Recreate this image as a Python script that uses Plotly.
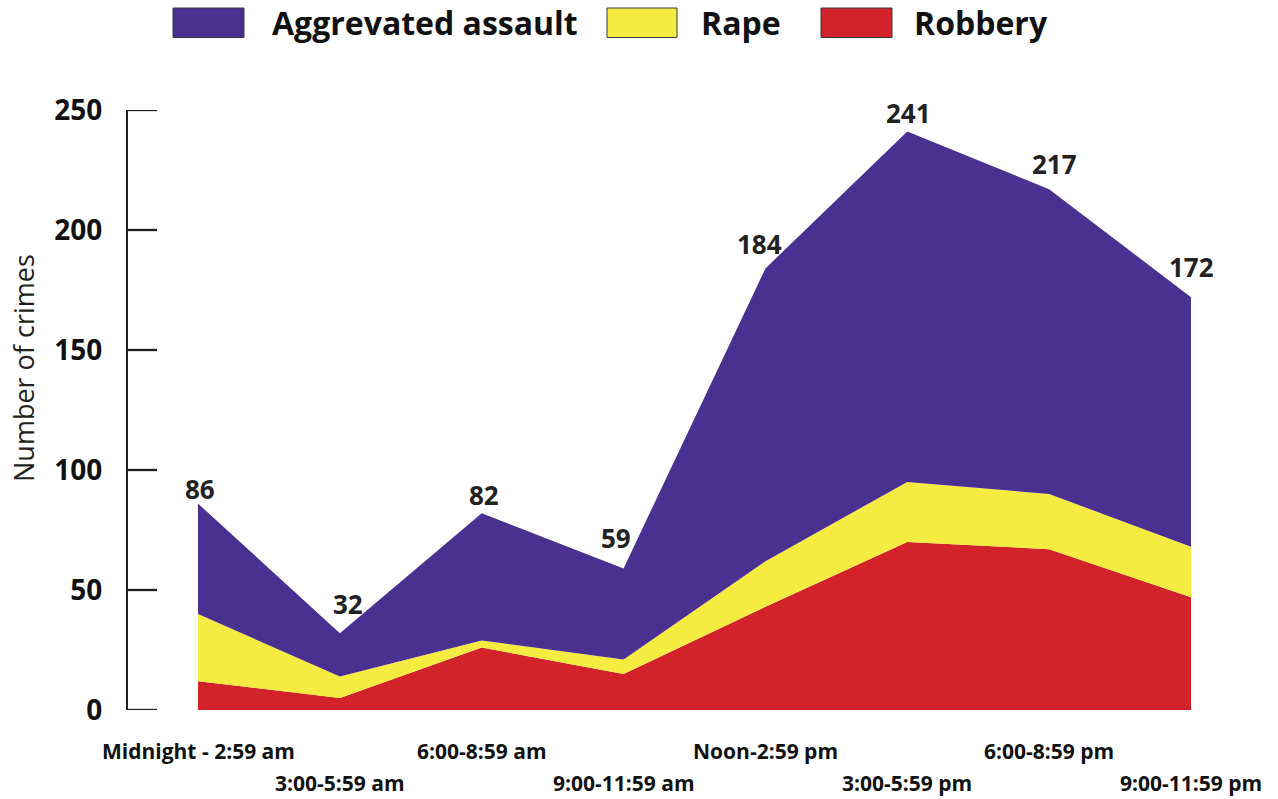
import plotly.graph_objects as go

categories = ["Midnight - 2:59 am", "3:00-5:59 am", "6:00-8:59 am", "9:00-11:59 am",
              "Noon-2:59 pm", "3:00-5:59 pm", "6:00-8:59 pm", "9:00-11:59 pm"]
robbery = [12, 5, 26, 15, 43, 70, 67, 47]
rape = [28, 9, 3, 6, 19, 25, 23, 21]
assault = [46, 18, 53, 38, 122, 146, 127, 104]
totals = [86, 32, 82, 59, 184, 241, 217, 172]
y_ticks = [0, 50, 100, 150, 200, 250]

colors = {"Aggrevated assault": "#4a3191", "Rape": "#f6eb41", "Robbery": "#d2232a"}

FONT = "Open Sans"
DARK = "#231f20"
xs = list(range(len(categories)))

# figure geometry (page body margin removed via post_script)
W, H = 1278, 799
L, R, T, B = 128, 48, 110, 89
pw, ph = W - L - R, H - T - B
def px_x(p):  # page pixel x -> paper
    return (p - L) / pw
def px_y(p):  # page pixel y -> paper
    return (H - B - p) / ph

step = (1191 - 198) / 7.0
x_min = (L - 198) / step
x_max = (W - R - 198) / step

fig = go.Figure()
for name, vals in [("Robbery", robbery), ("Rape", rape), ("Aggrevated assault", assault)]:
    fig.add_trace(go.Scatter(
        x=xs, y=vals, name=name, stackgroup="one", mode="lines",
        line=dict(width=0, color=colors[name]), fillcolor=colors[name],
        showlegend=False, hoverinfo="x+y+name"))

annotations = []
# data labels: (xshift, yshift) of label centre relative to the point
label_offsets = [(2, 15), (8, 29), (2, 18), (-8, 30), (-6, 24), (1, 19), (5, 25), (0, 30)]
for i, t in enumerate(totals):
    dx, dy = label_offsets[i]
    annotations.append(dict(x=i, y=t, text=f"<b>{t}</b>", showarrow=False,
                            xref="x", yref="y", yanchor="middle", xanchor="center",
                            xshift=dx, yshift=dy,
                            font=dict(family=FONT, size=26, color="#222222")))
# x category labels in two staggered rows
for i, c in enumerate(categories):
    annotations.append(dict(x=i, y=px_y(751 if i % 2 == 0 else 783), text=f"<b>{c}</b>",
                            showarrow=False, xref="x", yref="paper",
                            xanchor="center", yanchor="middle",
                            font=dict(family=FONT, size=21, color="#111111")))

# y-axis title
annotations.append(dict(x=px_x(23), y=px_y(368), xref="paper", yref="paper",
                        text="Number of crimes", textangle=-90, showarrow=False,
                        xanchor="center", yanchor="middle",
                        font=dict(family=FONT, size=27, color=DARK)))

shapes = []
# y-axis tick marks pointing into the plot
for v in y_ticks:
    shapes.append(dict(type="line", xref="paper", yref="y",
                       x0=px_x(127.5), x1=px_x(157), y0=v, y1=v,
                       line=dict(color=DARK, width=2.3)))

# custom legend (boxes + labels) at the top
legend_items = [("Aggrevated assault", 173, 244, 270), ("Rape", 607, 677, 699), ("Robbery", 821, 892, 912)]
for name, x0, x1, tx in legend_items:
    shapes.append(dict(type="rect", xref="paper", yref="paper",
                       x0=px_x(x0), x1=px_x(x1), y0=px_y(37.5), y1=px_y(8),
                       fillcolor=colors[name], line=dict(color="#3a3a3a", width=1)))
    annotations.append(dict(x=px_x(tx), y=px_y(23), xref="paper", yref="paper",
                            text=f"<b>{name}</b>", showarrow=False,
                            xanchor="left", yanchor="middle",
                            font=dict(family=FONT, size=32, color="#111111")))

fig.update_layout(
    width=W, height=H,
    margin=dict(l=L, r=R, t=T, b=B),
    paper_bgcolor="white", plot_bgcolor="white",
    showlegend=False,
    annotations=annotations, shapes=shapes,
    xaxis=dict(range=[x_min, x_max], showgrid=False,
               zeroline=False, showline=False, showticklabels=False, ticks=""),
    yaxis=dict(range=[0, 250], tickvals=y_ticks, ticktext=[f"<b>{v}</b>" for v in y_ticks],
               showgrid=False, zeroline=False, showline=True, linewidth=2.3, linecolor=DARK,
               ticks="", ticklabelstandoff=18,
               tickfont=dict(family=FONT, size=28, color="#111111")),
)

fig.write_html("out.html", config={"displayModeBar": False},
               post_script="document.body.style.margin='0';")
